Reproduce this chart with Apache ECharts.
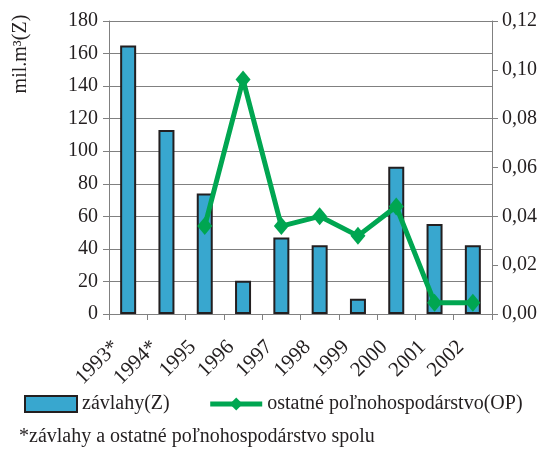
<!DOCTYPE html>
<html><head><meta charset="utf-8">
<script src="https://cdn.jsdelivr.net/npm/echarts@6/dist/echarts.min.js"></script>
<style>html,body{margin:0;padding:0;background:#fff}#c{width:549px;height:450px}</style>
</head><body><div id="c"></div>
<script>
const categories = ['1993*','1994*','1995','1996','1997','1998','1999','2000','2001','2002'];
const zavlahy = [165, 113, 74, 20.5, 47, 42.2, 9.4, 90.5, 55.3, 42.2];
const ostatne = [null, null, 0.036, 0.096, 0.036, 0.040, 0.032, 0.044, 0.0046, 0.0046];
const leftTicks = {min: 0, max: 180, interval: 20};
const rightTicks = {min: 0, max: 0.12, interval: 0.02};

const FONT = 'Liberation Serif';
const TXT = '#231F20';
const chart = echarts.init(document.getElementById('c'), null, {renderer: 'canvas'});
chart.setOption({
  animation: false,
  textStyle: {fontFamily: FONT, color: TXT},
  grid: {left: 109, right: 57, top: 21, bottom: 136, containLabel: false},
  legend: {
    left: 19, top: 389, itemWidth: 52, itemHeight: 16, itemGap: 38,
    textStyle: {fontFamily: FONT, fontSize: 20, color: TXT},
    data: [{name: 'závlahy(Z)', icon: 'rect'},
           {name: 'ostatné poľnohospodárstvo(OP)', lineStyle: {width: 5, color: '#00A651'}}]
  },
  xAxis: {
    type: 'category', data: categories, boundaryGap: true,
    axisLine: {lineStyle: {color: '#808080', width: 1}},
    axisTick: {show: true, alignWithLabel: false, length: 6, lineStyle: {color: '#808080'}},
    axisLabel: {rotate: 45, fontFamily: FONT, fontSize: 21, color: TXT, margin: 18, interval: 0,
      padding: [0, 17, 0, 0]}
  },
  yAxis: [{
    type: 'value', min: leftTicks.min, max: leftTicks.max, interval: leftTicks.interval,
    axisLine: {show: true, lineStyle: {color: '#808080'}},
    axisTick: {show: true, length: 6, lineStyle: {color: '#808080'}},
    splitLine: {show: true, lineStyle: {color: '#808080', width: 1}},
    axisLabel: {fontFamily: FONT, fontSize: 20, color: TXT, margin: 11}
  }, {
    type: 'value', min: rightTicks.min, max: rightTicks.max, interval: rightTicks.interval,
    position: 'right',
    axisLine: {show: true, lineStyle: {color: '#808080'}},
    axisTick: {show: true, length: 6, lineStyle: {color: '#808080'}},
    splitLine: {show: false},
    axisLabel: {fontFamily: FONT, fontSize: 20, color: TXT, margin: 10,
      formatter: v => v.toFixed(2).replace('.', ',')}
  }],
  series: [{
    name: 'závlahy(Z)', type: 'bar', data: zavlahy, yAxisIndex: 0, barWidth: 16,
    itemStyle: {color: '#38A7CF', borderColor: '#231F20', borderWidth: 2}
  }, {
    name: 'ostatné poľnohospodárstvo(OP)', type: 'line', data: ostatne, yAxisIndex: 1,
    symbol: 'diamond', symbolSize: [15, 18], showAllSymbol: true,
    lineStyle: {color: '#00A651', width: 5},
    itemStyle: {color: '#00A651'}
  }],
  graphic: [{
    type: 'text', x: 21, y: 54, rotation: Math.PI / 2,
    style: {text: 'mil.m³(Z)', font: '20px "Liberation Serif"', fill: TXT, align: 'center', verticalAlign: 'middle'}
  }, {
    type: 'text', left: 19, top: 427,
    style: {text: '*závlahy a ostatné poľnohospodárstvo spolu', font: '20px "Liberation Serif"', fill: TXT}
  }]
});
</script></body></html>
